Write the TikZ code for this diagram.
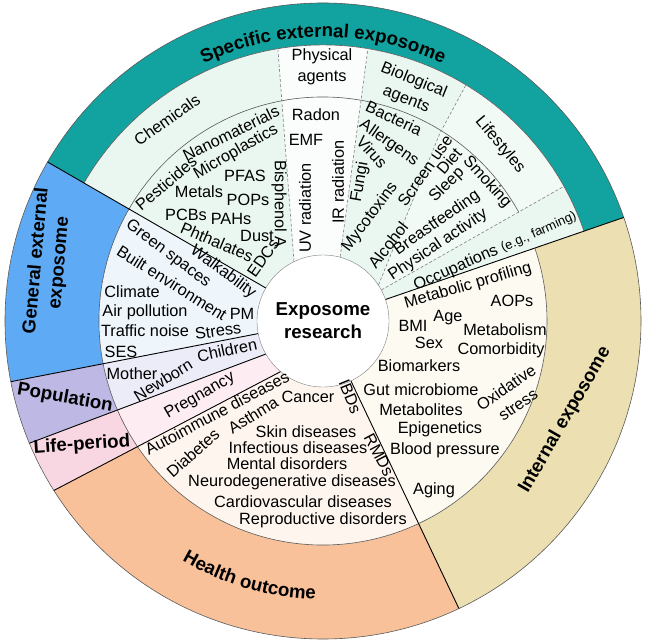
\documentclass[tikz,border=0pt]{standalone}
\usepackage{fontspec}
\setmainfont{Liberation Sans}
\usetikzlibrary{decorations.text}
\definecolor{tealband}{RGB}{18,163,160}
\definecolor{blueband}{RGB}{95,170,245}
\definecolor{lavband}{RGB}{190,185,228}
\definecolor{pinkband}{RGB}{248,214,226}
\definecolor{orangeband}{RGB}{248,193,153}
\definecolor{tanband}{RGB}{236,224,178}
\definecolor{greenlight}{RGB}{233,247,240}
\definecolor{whitelight}{RGB}{250,253,251}
\definecolor{lifelight}{RGB}{242,250,246}
\definecolor{bluelight}{RGB}{238,246,252}
\definecolor{lavlight}{RGB}{236,235,248}
\definecolor{pinklight}{RGB}{253,237,242}
\definecolor{peachlight}{RGB}{254,246,238}
\definecolor{creamlight}{RGB}{253,250,242}
\newcommand\hdfont{\fontsize{18.7}{23}\selectfont\bfseries}
\tikzset{
  itm/.style={inner sep=0pt, font=\fontsize{16.3}{20.5}\selectfont, align=center},
  hd/.style={inner sep=0pt, font=\hdfont, align=center},
  sep/.style={draw=black, line width=0.9pt},
  dsh/.style={draw=gray, line width=0.6pt, dash pattern=on 3pt off 2pt},
  rim/.style={draw=gray!70!black, line width=0.6pt}
}
\begin{document}
\begin{tikzpicture}[x=1pt,y=1pt]
\useasboundingbox (-323,-320) rectangle (323,321);

\fill[tealband] (19:318) arc[start angle=19,end angle=150,radius=318] -- (150:276) arc[start angle=150,end angle=19,radius=276] -- cycle;
\fill[blueband] (150:318) arc[start angle=150,end angle=191,radius=318] -- (191:224) arc[start angle=191,end angle=150,radius=224] -- cycle;
\fill[lavband] (191:318) arc[start angle=191,end angle=202.6,radius=318] -- (203.4:224) arc[start angle=203.4,end angle=191,radius=224] -- cycle;
\fill[pinkband] (202.6:318) arc[start angle=202.6,end angle=212.2,radius=318] -- (214.2:224) arc[start angle=214.2,end angle=203.4,radius=224] -- cycle;
\fill[orangeband] (212.2:318) arc[start angle=212.2,end angle=295.3,radius=318] -- (295.3:224) arc[start angle=295.3,end angle=214.2,radius=224] -- cycle;
\fill[tanband] (295.3:318) arc[start angle=295.3,end angle=379,radius=318] -- (19:224) arc[start angle=379,end angle=295.3,radius=224] -- cycle;

\fill[greenlight] (0,0) -- (19:276) arc[start angle=19,end angle=150,radius=276] -- cycle;
\fill[whitelight] (-29,59) -- (99.4:276) arc[start angle=99.4,end angle=80.6,radius=276] -- (17,64) -- cycle;
\fill[lifelight] (55,36) -- (117,188) -- (58.8:276) arc[start angle=58.8,end angle=29.2,radius=276] -- (28.5:66) -- cycle;
\fill[bluelight] (0,0) -- (150:224) arc[start angle=150,end angle=191,radius=224] -- cycle;
\fill[lavlight] (0,0) -- (191:224) arc[start angle=191,end angle=203.4,radius=224] -- (-57,-33) -- cycle;
\fill[pinklight] (0,0) -- (-57,-33) -- (203.4:224) arc[start angle=203.4,end angle=214.2,radius=224] -- (-43,-52) -- cycle;
\fill[peachlight] (0,0) -- (-43,-52) -- (214.2:224) arc[start angle=214.2,end angle=295.3,radius=224] -- cycle;
\fill[creamlight] (0,0) -- (-64.7:224) arc[start angle=-64.7,end angle=19,radius=224] -- cycle;

\draw[rim] (0,0) circle[radius=318];
\draw[rim] (19:276) arc[start angle=19,end angle=150,radius=276];
\draw[rim] (150:224) arc[start angle=150,end angle=379,radius=224];
\draw[rim] (29:224) arc[start angle=29,end angle=150,radius=224];

\node[circle, draw=gray, fill=white, minimum size=132pt, hd] (core) at (0,0) {Exposome\\research};

\draw[sep] (core.150) -- (150:318);
\draw[sep] (core.19) -- (19:318);
\draw[sep] (core.191) -- (191:318);
\draw[sep] (core.210) -- (202.6:318);
\draw[sep] (core.230.4) -- (212.2:318);
\draw[sep] (core.295.3) -- (295.3:318);

\draw[dsh] (core.116.2) -- (-45,271);
\draw[dsh] (core.75.1) -- (45,273);
\draw[dsh] (core.33.2) -- (117,188) -- (144,238);
\draw[dsh] (core.28.5) -- (29.2:276);

\path[decorate, decoration={text along path, text align=center, text={|\hdfont|Specific external exposome}}] (130:284) arc[start angle=130,end angle=50,radius=284];
\path[decorate, decoration={text along path, text align=center, text={|\hdfont|Health outcome}}] (-146:278) arc[start angle=-146,end angle=-66,radius=278];

\node[hd, rotate=85] (general) at (-275,59) {General external\\exposome};
\node[hd, rotate=-10] (population) at (-258,-77) {Population};
\node[hd, rotate=4] (lifeperiod) at (-241,-124) {Life-period};
\node[hd, rotate=60] (internal) at (242,-99) {Internal exposome};

\node[itm, rotate=35] (chemicals) at (-156,201) {Chemicals};
\node[itm] (physical) at (-1,254) {Physical\\agents};
\node[itm, rotate=-22] (biological) at (87,231) {Biological\\agents};
\node[itm, rotate=-50] (lifestyles) at (177,176) {Lifestyles};

\node[itm, rotate=26] (nano) at (-92,188) {Nanomaterials};
\node[itm, rotate=30] (micro) at (-87,169) {Microplastics};
\node[itm, rotate=40] (pesticides) at (-157,138) {Pesticides};
\node[itm] (pfas) at (-78,145) {PFAS};
\node[itm] (metals) at (-124,129) {Metals};
\node[itm] (pops) at (-75,121) {POPs};
\node[itm] (pcbs) at (-137,106) {PCBs};
\node[itm] (pahs) at (-92,102) {PAHs};
\node[itm] (dust) at (-66,85) {Dust};
\node[itm, rotate=-23] (phthalates) at (-106,79) {Phthalates};
\node[itm, rotate=55] (edcs) at (-60,63) {EDCs};
\node[itm, rotate=-90] (bisphenol) at (-44,117) {Bisphenol A};

\node[itm] (radon) at (-7,206) {Radon};
\node[itm] (emf) at (-17,181) {EMF};
\node[itm, rotate=90] (uv) at (-18,113) {UV radiation};
\node[itm, rotate=90] (ir) at (15,139) {IR radiation};

\node[itm, rotate=-25] (bacteria) at (71,203) {Bacteria};
\node[itm, rotate=-35] (allergens) at (66,178) {Allergens};
\node[itm, rotate=-48] (virus) at (49,169) {Virus};
\node[itm, rotate=80] (fungi) at (37,139) {Fungi};
\node[itm, rotate=53] (mycotoxins) at (47,104) {Mycotoxins};

\node[itm, rotate=55] (screen) at (102,150) {Screen use};
\node[itm, rotate=50] (diet) at (126,160) {Diet};
\node[itm, rotate=45] (sleep) at (124,136) {Sleep};
\node[itm, rotate=-48] (smoking) at (164,139) {Smoking};
\node[itm, rotate=35] (breast) at (114,98) {Breastfeeding};
\node[itm, rotate=34] (activity) at (115,76) {Physical activity};
\node[itm, rotate=52] (alcohol) at (65,76) {Alcohol};
\node[itm, rotate=24] (occupations) at (172,70) {Occupations {\fontsize{13}{15}\selectfont(e.g., farming)}};

\node[itm, rotate=16] (metabolic) at (145,35) {Metabolic profiling};
\node[itm] (aops) at (189,20) {AOPs};
\node[itm] (age) at (125,3) {Age};
\node[itm] (bmi) at (90,-5) {BMI};
\node[itm] (sex) at (106,-22) {Sex};
\node[itm] (metabolism) at (182,-9) {Metabolism};
\node[itm] (comorbidity) at (178,-29) {Comorbidity};
\node[itm] (biomarkers) at (96,-45) {Biomarkers};
\node[itm] (gut) at (98,-69) {Gut microbiome};
\node[itm, rotate=35] (oxidative) at (189,-75) {Oxidative\\stress};
\node[itm] (metabolites) at (98,-89) {Metabolites};
\node[itm] (epigenetics) at (117,-108) {Epigenetics};
\node[itm] (blood) at (122,-129) {Blood pressure};
\node[itm] (aging) at (111,-169) {Aging};

\node[itm, rotate=-68] (ibds) at (27,-76) {IBDs};
\node[itm, rotate=-62] (rmds) at (56,-134) {RMDs};
\node[itm] (cancer) at (-15,-76) {Cancer};
\node[itm] (skin) at (-17,-111) {Skin diseases};
\node[itm] (infectious) at (-25,-127) {Infectious diseases};
\node[itm] (mental) at (-36,-143) {Mental disorders};
\node[itm] (neuro) at (-31,-161) {Neurodegenerative diseases};
\node[itm] (cardio) at (-20,-181) {Cardiovascular diseases};
\node[itm] (repro) at (0,-199) {Reproductive disorders};
\node[itm, rotate=28] (autoimmune) at (-106,-92) {Autoimmune diseases};
\node[itm, rotate=32] (asthma) at (-70,-94) {Asthma};
\node[itm, rotate=42] (diabetes) at (-130,-132) {Diabetes};

\node[itm, rotate=30] (pregnancy) at (-123,-75) {Pregnancy};
\node[itm] (mother) at (-191,-53) {Mother};
\node[itm, rotate=32] (newborn) at (-160,-59) {Newborn};
\node[itm, rotate=12] (children) at (-96,-29) {Children};

\node[itm] (ses) at (-202,-31) {SES};
\node[itm] (traffic) at (-178,-10) {Traffic noise};
\node[itm, rotate=8] (stress) at (-105,-10) {Stress};
\node[itm] (air) at (-178,9) {Air pollution};
\node[itm] (pm) at (-81,7) {PM};
\node[itm] (climate) at (-191,29) {Climate};
\node[itm, rotate=-37] (green) at (-155,67) {Green spaces};
\node[itm, rotate=-32] (built) at (-151,38) {Built environment};
\node[itm, rotate=-37] (walk) at (-100,49) {Walkability};
\end{tikzpicture}
\end{document}
